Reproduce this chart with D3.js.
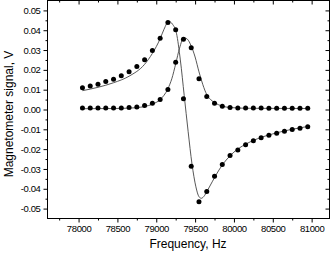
<!DOCTYPE html>
<html>
<head>
<meta charset="utf-8">
<script src="https://cdn.jsdelivr.net/npm/d3@7"></script>
<style>
  body { margin: 0; background: #fff; }
  .tick text { font-family: "Liberation Sans", Arial, sans-serif; font-size: 9.5px; letter-spacing: -0.4px; fill: #000; }
  .title { font-family: "Liberation Sans", Arial, sans-serif; font-size: 12px; fill: #000; }
</style>
</head>
<body>
<div id="chart"></div>
<script>
// measured points (Hz)
var freq = [78050, 78150, 78250, 78350, 78450, 78550, 78650, 78750, 78850, 78950,
            79050, 79150, 79250, 79350, 79450, 79550, 79650, 79750, 79850, 79950,
            80050, 80150, 80250, 80350, 80450, 80550, 80650, 80750, 80850, 80950];

// dispersion-like signal
var signalA = [0.0110, 0.0118, 0.0128, 0.0141, 0.0153, 0.0170, 0.0190, 0.0217, 0.0251, 0.0298,
               0.0360, 0.0439, 0.0402, 0.0054, -0.0286, -0.0465, -0.0414, -0.0337, -0.0278, -0.0232,
               -0.0204, -0.0178, -0.0158, -0.0143, -0.0130, -0.0120, -0.0110, -0.0101, -0.0094, -0.0087];

// absorption-like signal
var signalB = [0.0007, 0.0007, 0.0007, 0.0007, 0.0007, 0.0008, 0.0010, 0.0013, 0.0020, 0.0032,
               0.0050, 0.0101, 0.0239, 0.0354, 0.0312, 0.0155, 0.0065, 0.0032, 0.0017, 0.0010,
               0.0008, 0.0007, 0.0007, 0.0007, 0.0006, 0.0006, 0.0006, 0.0006, 0.0006, 0.0006];

// fitted curves
var fitA_f = [78050, 78250, 78450, 78650, 78850, 78950, 79050, 79100, 79160, 79210,
              79260, 79310, 79360, 79410, 79460, 79510, 79550, 79580, 79620, 79660,
              79720, 79800, 79900, 80000, 80150, 80300, 80500, 80700, 80960];
var fitA_v = [0.0095, 0.0112, 0.0135, 0.0168, 0.0228, 0.0283, 0.0357, 0.0405, 0.0445, 0.0430,
              0.0385, 0.0250, 0.0070, -0.0110, -0.0275, -0.0390, -0.0440, -0.0448, -0.0435, -0.0408,
              -0.0365, -0.0310, -0.0255, -0.0215, -0.0175, -0.0148, -0.0123, -0.0104, -0.0085];

var fitB_f = [78050, 78450, 78650, 78850, 78950, 79050, 79150, 79200, 79250, 79300,
              79355, 79400, 79450, 79500, 79550, 79600, 79650, 79700, 79750, 79850,
              79950, 80200, 80960];
var fitB_v = [0.0004, 0.0005, 0.0007, 0.0015, 0.0027, 0.0050, 0.0105, 0.0155, 0.0230, 0.0310,
              0.0362, 0.0355, 0.0320, 0.0265, 0.0190, 0.0125, 0.0075, 0.0050, 0.0035, 0.0017,
              0.0010, 0.0006, 0.0005];

var xTicks = [78000, 78500, 79000, 79500, 80000, 80500, 81000];
var xMinor = [77750, 78250, 78750, 79250, 79750, 80250, 80750];
var yTicks = [-0.05, -0.04, -0.03, -0.02, -0.01, 0.00, 0.01, 0.02, 0.03, 0.04, 0.05];
var yMinor = [-0.045, -0.035, -0.025, -0.015, -0.005, 0.005, 0.015, 0.025, 0.035, 0.045];

var W = 332, H = 254;
var plotL = 47.5, plotR = 329.5, plotT = 0.5, plotB = 218.5;

var x = d3.scaleLinear().domain([77600, 81230]).range([plotL, plotR]);
var y = d3.scaleLinear().domain([-0.055, 0.055]).range([plotB, plotT]);

var svg = d3.select("#chart").append("svg")
    .attr("width", W)
    .attr("height", H);

function fmtY(d) {
    return d === 0 ? "0.00" : d.toFixed(2);
}

function noDomain(g) {
    g.select(".domain").remove();
}

// bottom axis
svg.append("g")
    .attr("transform", "translate(0," + plotB + ")")
    .call(d3.axisBottom(x).tickValues(xTicks).tickSize(4).tickPadding(3).tickFormat(d3.format("d")))
    .call(noDomain);
svg.append("g")
    .attr("transform", "translate(0," + plotB + ")")
    .call(d3.axisBottom(x).tickValues(xMinor).tickSize(2).tickFormat(""))
    .call(noDomain);

// top axis, ticks inward
svg.append("g")
    .attr("transform", "translate(0," + plotT + ")")
    .call(d3.axisBottom(x).tickValues(xTicks).tickSize(4).tickFormat(""))
    .call(noDomain);
svg.append("g")
    .attr("transform", "translate(0," + plotT + ")")
    .call(d3.axisBottom(x).tickValues(xMinor).tickSize(2).tickFormat(""))
    .call(noDomain);

// left axis
svg.append("g")
    .attr("transform", "translate(" + plotL + ",0)")
    .call(d3.axisLeft(y).tickValues(yTicks).tickSize(4).tickPadding(3).tickFormat(fmtY))
    .call(noDomain);
svg.append("g")
    .attr("transform", "translate(" + plotL + ",0)")
    .call(d3.axisLeft(y).tickValues(yMinor).tickSize(2).tickFormat(""))
    .call(noDomain);

// right axis, ticks inward
svg.append("g")
    .attr("transform", "translate(" + plotR + ",0)")
    .call(d3.axisLeft(y).tickValues(yTicks).tickSize(4).tickFormat(""))
    .call(noDomain);
svg.append("g")
    .attr("transform", "translate(" + plotR + ",0)")
    .call(d3.axisLeft(y).tickValues(yMinor).tickSize(2).tickFormat(""))
    .call(noDomain);

// frame
svg.append("rect")
    .attr("x", plotL)
    .attr("y", plotT)
    .attr("width", plotR - plotL)
    .attr("height", plotB - plotT)
    .attr("fill", "none")
    .attr("stroke", "#000")
    .attr("stroke-width", 1);

// fit lines
var line = d3.line()
    .x(function (d) { return x(d[0]); })
    .y(function (d) { return y(d[1]); })
    .curve(d3.curveMonotoneX);

[[fitA_f, fitA_v], [fitB_f, fitB_v]].forEach(function (s) {
    svg.append("path")
        .datum(d3.zip(s[0], s[1]))
        .attr("d", line)
        .attr("fill", "none")
        .attr("stroke", "#444")
        .attr("stroke-width", 0.9);
});

// points
[signalA, signalB].forEach(function (vals) {
    svg.append("g").selectAll("circle")
        .data(d3.zip(freq, vals))
        .enter().append("circle")
        .attr("cx", function (d) { return x(d[0]); })
        .attr("cy", function (d) { return y(d[1]); })
        .attr("r", 2.5)
        .attr("fill", "#000");
});

// axis titles
svg.append("text")
    .attr("class", "title")
    .attr("x", 188)
    .attr("y", 248)
    .attr("text-anchor", "middle")
    .text("Frequency, Hz");

svg.append("text")
    .attr("class", "title")
    .attr("transform", "translate(12.5,114) rotate(-90)")
    .attr("text-anchor", "middle")
    .text("Magnetometer signal, V");
</script>
</body>
</html>
